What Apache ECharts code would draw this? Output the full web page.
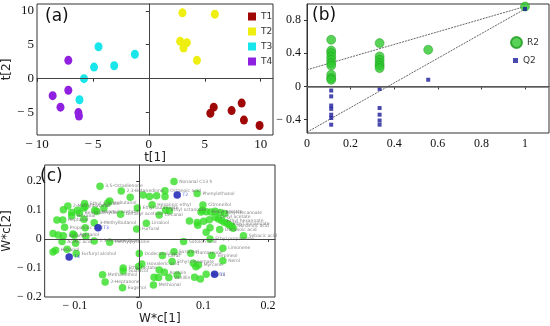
<!DOCTYPE html>
<html><head><meta charset="utf-8">
<script src="https://cdn.jsdelivr.net/npm/echarts@6/dist/echarts.min.js"></script>
<style>html,body{margin:0;padding:0;background:#fff}#c{width:550px;height:326px}</style>
</head><body><div id="c"></div><script>
// ---- Panel (a): score plot t[1] vs t[2]
const groupNames = ['T1','T2','T3','T4'];
const t1Scores = [[5.8,-4.2],[5.5,-5.1],[7.4,-4.7],[8.3,-3.6],[8.5,-6.1],[9.9,-6.9]];
const t2Scores = [[3.0,9.7],[5.9,9.5],[2.8,5.5],[3.4,5.3],[3.1,4.5],[4.3,2.7]];
const t3Scores = [[-4.5,4.7],[-1.25,3.6],[-3.1,1.9],[-4.9,1.7],[-5.8,0.0],[-6.2,-3.1]];
const t4Scores = [[-7.2,2.7],[-7.2,-1.7],[-8.6,-2.5],[-7.9,-4.2],[-6.3,-5.0],[-6.25,-5.5]];
// ---- Panel (b): permutation test
const r2Perm = [[0.111,0.56],[0.111,0.43],[0.111,0.40],[0.111,0.36],[0.111,0.32],[0.111,0.28],[0.111,0.25],[0.111,0.14],[0.111,0.10],[0.111,0.08],
  [0.333,0.52],[0.333,0.36],[0.333,0.32],[0.333,0.28],[0.333,0.25],[0.333,0.22],[0.556,0.44],[1,0.96]];
const q2Perm = [[0.111,-0.05],[0.111,-0.12],[0.111,-0.23],[0.111,-0.27],[0.111,-0.34],[0.111,-0.38],[0.111,-0.46],
  [0.333,-0.03],[0.333,-0.26],[0.333,-0.34],[0.333,-0.41],[0.333,-0.46],[0.556,0.08],[1,0.93]];
const r2Line = [[0,0.20],[1,0.96]];
const q2Line = [[0,-0.55],[1,0.93]];
// ---- Panel (c): loading plot W*c[1] vs W*c[2]
const loadingsGreen = [
 [-0.061,0.182,'3,5-Octadienone'],[-0.028,0.165,'2,3-Butanedione'],[-0.014,0.144,''],[0.006,0.152,''],[0.016,0.146,''],[0.027,0.149,''],
 [0.040,0.166,'Octanoic acid'],[0.040,0.146,''],[0.054,0.198,'Nonanal C13 h'],[0.090,0.157,'Phenylethanol'],[0.020,0.118,'Hexanoic ethyl'],
 [-0.049,0.124,'Isobutanol'],[-0.046,0.131,''],[-0.085,0.122,'Ethyl acetate'],[-0.084,0.112,''],[-0.111,0.114,'2-Methylbutanal'],
 [-0.118,0.101,''],[-0.105,0.091,''],[-0.105,0.080,'Hexanal'],[-0.096,0.099,''],[-0.093,0.089,'Benzaldehyde'],[-0.086,0.107,''],
 [-0.086,0.068,''],[-0.069,0.099,''],[-0.066,0.095,'Isoamyl acetate'],[-0.055,0.107,''],[-0.029,0.085,'Geranyl acetone'],
 [-0.003,0.107,'Ethyl butanoate'],[-0.128,0.065,''],[-0.119,0.065,'Heptanal'],[-0.116,0.040,'Propanoic acid'],[-0.134,0.019,''],
 [-0.126,0.014,''],[-0.118,0.011,'Butanal'],[-0.103,0.017,''],[-0.101,0.013,'Pentanol'],[-0.084,0.039,''],[-0.070,0.056,'3-Methylbutanol'],
 [-0.083,0.009,''],[-0.120,-0.009,'Acetic acid'],[-0.099,-0.015,''],[-0.070,-0.007,'2,3-Pentanedione'],[-0.046,-0.011,'Methylpyrazine'],
 [-0.004,0.034,'Furfural'],[0.011,0.054,'Linalool'],[0.031,0.083,'Decanal'],[0.041,0.099,'Ethyl octanoate'],[0.047,0.097,''],
 [-0.134,-0.045,''],[-0.130,-0.039,'Hexanol'],[-0.112,-0.035,''],[-0.098,-0.050,'Furfuryl alcohol'],[-0.057,-0.123,'Methanethiol'],
 [-0.053,-0.148,'2-Heptanone'],[-0.025,-0.100,'Ethyl lactate'],[-0.025,-0.110,'Guaiacol'],[-0.026,-0.168,'Eugenol'],
 [0.000,-0.050,'Dodecanoic acid'],[-0.001,-0.095,''],[0.004,-0.086,'Isovaleric acid'],[0.036,-0.057,'Citral'],[0.054,-0.044,'Furaneol'],
 [0.051,-0.078,'Ethyl cinnamate'],[0.069,-0.009,'Sotolon acid'],[0.080,-0.049,'Damascone'],[0.084,-0.084,''],[0.088,-0.096,''],
 [0.092,-0.090,'Myrcene'],[0.104,-0.122,'Maltol'],[0.095,-0.138,''],[0.086,-0.132,''],[0.130,-0.032,'Limonene'],[0.113,-0.057,'Terpineol'],
 [0.130,-0.075,'Nerol'],[0.023,-0.132,''],[0.030,-0.133,''],[0.046,-0.133,'Vanillin'],[0.059,-0.124,''],[0.039,-0.115,'Acetoin'],
 [0.031,-0.107,''],[0.022,-0.159,'Methional'],[0.110,0.000,'Ethyl propanoate'],
 [0.099,0.117,'Citronellol'],[0.098,0.099,''],[0.096,0.093,''],[0.104,0.094,'Hexyl acetate'],[0.111,0.093,''],[0.118,0.096,''],
 [0.126,0.091,'Ethyl decanoate'],[0.133,0.088,''],[0.078,0.062,''],[0.090,0.057,''],[0.091,0.047,''],[0.100,0.061,''],[0.109,0.066,''],
 [0.118,0.075,'Octyl acetate'],[0.123,0.069,''],[0.128,0.064,'Ethyl hexanoate'],[0.132,0.058,''],[0.137,0.053,'Ethyl nonanoate'],
 [0.140,0.048,''],[0.144,0.044,'Nonanoic acid'],[0.146,0.037,''],[0.110,0.039,''],[0.104,0.023,''],[0.125,0.033,'Decanoic acid'],
 [0.162,0.011,'Sebacic acid']
];
const loadingsBlue = [[0.117,-0.122,'T1'],[0.059,0.152,'T2'],[-0.064,0.039,'T3'],[-0.109,-0.062,'T4']];

const serif = 'Liberation Serif';
const sans = 'DejaVu Sans';
const fmt = v => v < 0 ? '\u2212 ' + String(+Math.abs(v).toFixed(2)) : String(+(+v).toFixed(2));
const tick = {show:true, length:3, lineStyle:{color:'#333'}};
const line = {show:true, lineStyle:{color:'#333', width:1}};
function lab(size, margin, showMin){ return {fontFamily:serif, fontSize:size, color:'#111', margin:margin, formatter:fmt, showMinLabel:!!showMin, showMaxLabel:false}; }

const zeroLines = (color, w) => ({silent:true, symbol:'none', label:{show:false}, lineStyle:{color:color, width:w, type:'solid'},
  data:[{xAxis:0},{yAxis:0}]});

const groupColors = ['#a00808','#eeee10','#19e6ea','#9020e0'];
const groupData = [t1Scores,t2Scores,t3Scores,t4Scores];

const chart = echarts.init(document.getElementById('c'), null, {renderer:'canvas'});
const series = [];
groupData.forEach((d,i)=>{
  series.push({name:groupNames[i], type:'scatter', xAxisIndex:0, yAxisIndex:0, data:d, symbol:'circle', symbolSize:[8,9],
    itemStyle:{color:groupColors[i], opacity:1}, z:3,
    markLine: i===0 ? zeroLines('#444',1) : undefined});
});
series.push({name:'R2line', type:'line', xAxisIndex:1, yAxisIndex:1, data:r2Line, symbol:'none', silent:true,
  lineStyle:{color:'#555', width:0.9, type:[2,1]}, z:2,
  markLine:{silent:true, symbol:'none', label:{show:false}, lineStyle:{color:'#666', width:1.6, type:'solid'}, data:[{yAxis:0}]}});
series.push({name:'Q2line', type:'line', xAxisIndex:1, yAxisIndex:1, data:q2Line, symbol:'none', silent:true,
  lineStyle:{color:'#555', width:0.9, type:[2,1]}, z:2});
series.push({name:'R2', type:'scatter', xAxisIndex:1, yAxisIndex:1, data:r2Perm, symbol:'circle', symbolSize:9,
  itemStyle:{color:'#2ec82e', borderColor:'#1d9a1d', borderWidth:0.6}, z:3});
series.push({name:'Q2', type:'scatter', xAxisIndex:1, yAxisIndex:1, data:q2Perm, symbol:'rect', symbolSize:4,
  itemStyle:{color:'#1a1a9a'}, z:4});
series.push({name:'loadG', type:'scatter', xAxisIndex:2, yAxisIndex:2, data:loadingsGreen, encode:{x:0,y:1}, symbol:'circle', symbolSize:7.5,
  itemStyle:{color:'#35dd25'}, z:3,
  label:{show:true, position:'right', distance:1.5, fontSize:4.5, fontFamily:sans, color:'#666', formatter:p=>p.data[2]||''},
  markLine: zeroLines('#444',1)});
series.push({name:'loadB', type:'scatter', xAxisIndex:2, yAxisIndex:2, data:loadingsBlue, encode:{x:0,y:1}, symbol:'circle', symbolSize:7.5,
  itemStyle:{color:'#0c14b0'}, z:4,
  label:{show:true, position:'right', distance:1.5, fontSize:4.5, fontFamily:sans, color:'#2233cc', formatter:p=>p.data[2]}});

chart.setOption({
  animation:false,
  backgroundColor:'#fff',
  title:[
    {text:'(a)', left:45, top:8, padding:0, textStyle:{fontFamily:sans, fontSize:17, fontWeight:'normal', color:'#111'}},
    {text:'(b)', left:312, top:7, padding:0, textStyle:{fontFamily:sans, fontSize:17, fontWeight:'normal', color:'#111'}},
    {text:'(c)', left:40, top:168, padding:0, textStyle:{fontFamily:sans, fontSize:17, fontWeight:'normal', color:'#111'}}
  ],
  legend:[
    {data:groupNames, orient:'vertical', left:248, top:12, padding:0, itemWidth:8, itemHeight:8, itemGap:6, icon:'rect',
      textStyle:{fontFamily:sans, fontSize:9, color:'#333'}, selectedMode:false},
    {data:[{name:'R2', icon:'circle'}], left:510, top:36, padding:0, itemWidth:11, itemHeight:11,
      textStyle:{fontFamily:sans, fontSize:9, color:'#333'}, selectedMode:false},
    {data:[{name:'Q2', icon:'rect'}], left:513, top:56, padding:0, itemWidth:5, itemHeight:5,
      textStyle:{fontFamily:sans, fontSize:9, color:'#333'}, selectedMode:false}
  ],
  grid:[
    {left:36, top:4, width:237, height:131, show:true, borderColor:'#333', borderWidth:1},
    {left:307, top:4, width:242, height:129, show:true, borderColor:'#333', borderWidth:1},
    {left:35, top:165, width:240, height:132, show:true, borderColor:'#333', borderWidth:1}
  ],
  xAxis:[
    {gridIndex:0, type:'value', min:-10, max:11.1, interval:5, splitLine:{show:false}, axisLine:line, axisTick:tick,
      axisLabel:lab(13,3,true), name:'t[1]', nameLocation:'middle', nameGap:17, nameTextStyle:{fontFamily:sans, fontSize:12, color:'#222'}},
    {gridIndex:1, type:'value', min:0, max:1.11, interval:0.2, splitLine:{show:false}, axisLine:line, axisTick:tick,
      axisLabel:lab(12,5,true)},
    {gridIndex:2, type:'value', min:-0.147, max:0.211, minInterval:0.1, maxInterval:0.1, splitNumber:4, splitLine:{show:false}, axisLine:line, axisTick:tick,
      axisLabel:lab(12,3,false), name:'W*c[1]', nameLocation:'middle', nameGap:16, nameTextStyle:{fontFamily:sans, fontSize:12, color:'#222'}}
  ],
  yAxis:[
    {gridIndex:0, type:'value', min:-8.3, max:11, minInterval:5, maxInterval:5, splitNumber:4, splitLine:{show:false}, axisLine:line, axisTick:tick,
      axisLabel:lab(13,3,false), name:'t[2]', nameLocation:'middle', nameGap:24, nameRotate:90, nameTextStyle:{fontFamily:sans, fontSize:12, color:'#222'}},
    {gridIndex:1, type:'value', min:-0.56, max:0.99, minInterval:0.4, maxInterval:0.4, splitNumber:4, splitLine:{show:false}, axisLine:line, axisTick:tick,
      axisLabel:lab(12,6,false)},
    {gridIndex:2, type:'value', min:-0.2, max:0.255, interval:0.1, splitLine:{show:false}, axisLine:line, axisTick:tick,
      axisLabel:lab(12,3,true), name:'W*c[2]', nameLocation:'middle', nameGap:25, nameRotate:90, nameTextStyle:{fontFamily:sans, fontSize:12, color:'#222'}}
  ],
  series:series
});
</script></body></html>
